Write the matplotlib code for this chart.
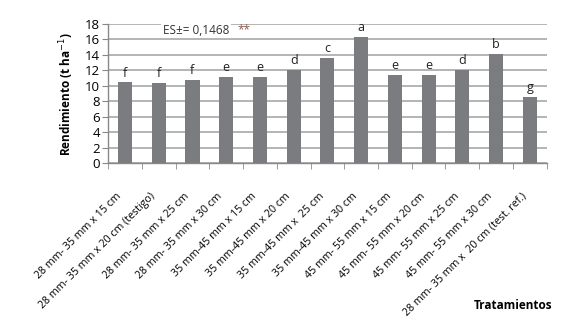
import matplotlib.pyplot as plt
import matplotlib.transforms as mtransforms
import numpy as np

plt.rcParams['font.family'] = ['Open Sans', 'DejaVu Sans']

treatments = [
    '28 mm- 35 mm x 15 cm',
    '28 mm- 35 mm x 20 cm (testigo)',
    '28 mm- 35 mm x 25 cm',
    '28 mm- 35 mm x 30 cm',
    '35 mm-45 mm x 15 cm',
    '35 mm-45 mm x 20 cm',
    '35 mm-45 mm x  25 cm',
    '35 mm-45 mm x 30 cm',
    '45 mm- 55 mm x 15 cm',
    '45 mm- 55 mm x 20 cm',
    '45 mm- 55 mm x 25 cm',
    '45 mm- 55 mm x 30 cm',
    '28 mm- 35 mm x  20 cm (test. ref.)',
]
yields = [10.45, 10.42, 10.75, 11.18, 11.18, 12.1, 13.64, 16.36, 11.4, 11.4, 12.05, 14.16, 8.55]
letters = ['f', 'f', 'f', 'e', 'e', 'd', 'c', 'a', 'e', 'e', 'd', 'b', 'g']

BAR_COLOR = '#7b7c80'
GRID_COLOR = '#b4b4b4'

fig = plt.figure(figsize=(5.81, 3.23), dpi=100)
ax = fig.add_axes((0.186, 0.494, 0.755, 0.432))

x = np.arange(len(treatments))
ax.bar(x, yields, width=0.42, color=BAR_COLOR, zorder=3)

for xi, v, l in zip(x, yields, letters):
    ax.text(xi, v + 0.35, l, ha='center', va='bottom', fontsize=9, color='#222222')

ax.set_xlim(-0.5, len(treatments) - 0.5)
ax.set_ylim(0, 18)
ax.set_yticks(range(0, 19, 2))
ax.yaxis.grid(True, color=GRID_COLOR, linewidth=1.4, zorder=0)
ax.set_axisbelow(True)

# category labels at bar centres, ticks at category boundaries
ax.set_xticks(x)
ax.set_xticklabels(treatments, rotation=45, ha='right', rotation_mode='anchor', fontsize=7.7)
ax.tick_params(axis='x', length=0, pad=6)
ax.set_xticks(np.arange(-0.5, len(treatments)), minor=True)
ax.tick_params(axis='x', which='minor', length=4, color='#888888', direction='out')
ax.tick_params(axis='y', labelsize=9.5, length=4, color='#888888', pad=2)

# nudge the slanted labels down-left like the original
shift = mtransforms.ScaledTranslation(-9 / 100, -19 / 100, fig.dpi_scale_trans)
for lab in ax.get_xticklabels():
    lab.set_transform(lab.get_transform() + shift)

for side in ['top', 'right']:
    ax.spines[side].set_visible(False)
for side in ['left', 'bottom']:
    ax.spines[side].set_color('#888888')
    ax.spines[side].set_linewidth(1.0)

ax.set_ylabel('Rendimiento (t ha$^{-1}$)', fontsize=8.5, fontweight='bold', labelpad=6)

ax.text(0.125, 0.955, 'ES\u00b1= 0,1468', transform=ax.transAxes, fontsize=8.5,
        ha='left', va='center', color='#333333',
        bbox=dict(facecolor='white', edgecolor='none', pad=1))
ax.text(0.296, 0.96, '**', transform=ax.transAxes, fontsize=8.5,
        ha='left', va='center', color='#8a5a4a')

fig.text(0.815, 0.055, 'Tratamientos', fontsize=8.5, fontweight='bold', ha='left', va='center')

fig.savefig('out.png', dpi=100, facecolor='white')
